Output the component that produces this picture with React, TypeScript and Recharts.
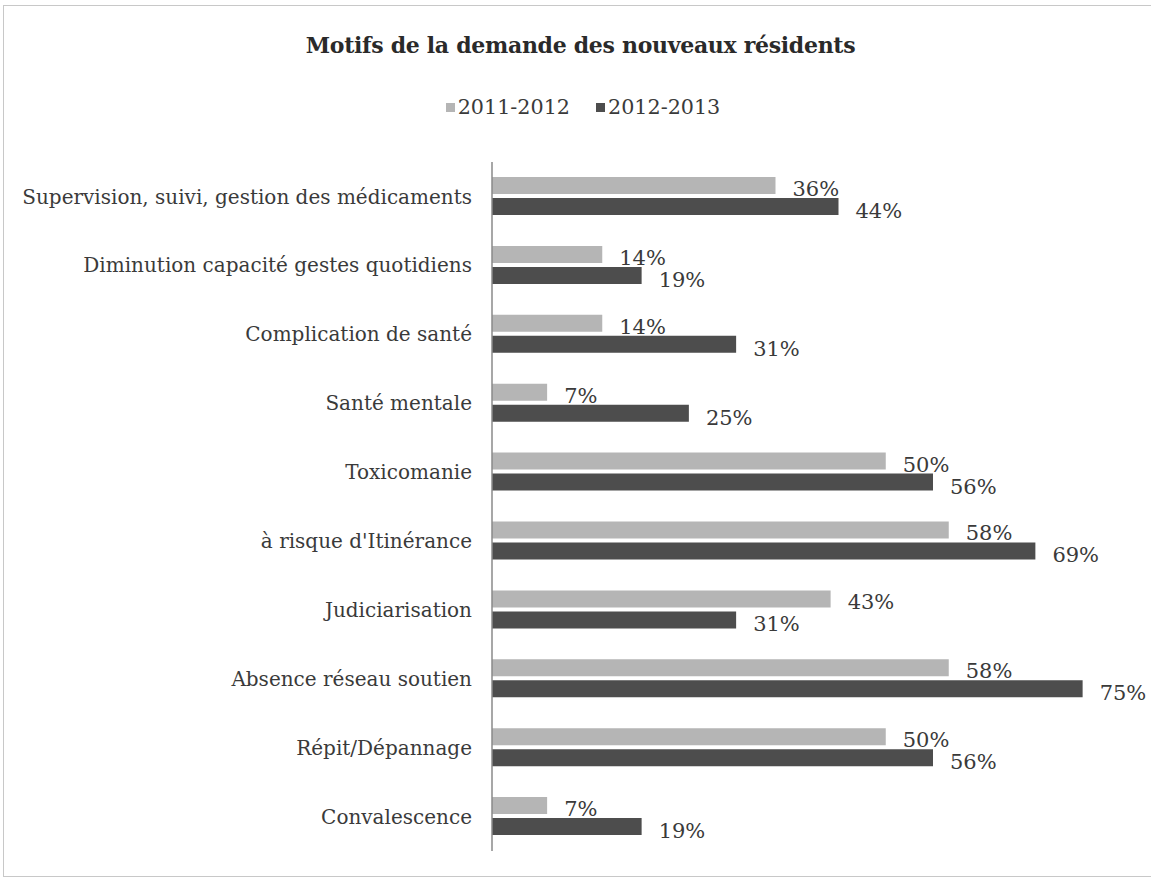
import { BarChart, Bar, XAxis, YAxis, LabelList } from "recharts";

const categories = [
  "Supervision, suivi, gestion des médicaments",
  "Diminution capacité gestes quotidiens",
  "Complication de santé",
  "Santé mentale",
  "Toxicomanie",
  "à risque d'Itinérance",
  "Judiciarisation",
  "Absence réseau soutien",
  "Répit/Dépannage",
  "Convalescence",
];
const y2011 = [36, 14, 14, 7, 50, 58, 43, 58, 50, 7];
const y2013 = [44, 19, 31, 25, 56, 69, 31, 75, 56, 19];
const seriesNames = ["2011-2012", "2012-2013"];

const data = categories.map((name, i) => ({ name, a: y2011[i], b: y2013[i] }));

const FONT = "'DejaVu Serif', serif";
const TEXT = "#3a3a3a";
const LIGHT = "#b5b5b5";
const DARK = "#4d4d4d";

const pct = (v: any) => `${v}%`;

export default function App() {
  return (
    <div style={{ position: "fixed", left: 0, top: 0, width: 1151, height: 880, background: "#fff", fontFamily: FONT }}>
      <div style={{ position: "absolute", left: 3, top: 5, width: 1160, height: 872, border: "1.5px solid #c8c8c8", boxSizing: "border-box" }} />
      <div style={{ position: "absolute", left: 0, width: 1161, top: 32, textAlign: "center", fontSize: 22, fontWeight: "bold", color: "#2a2a2a", letterSpacing: -0.3 }}>
        Motifs de la demande des nouveaux résidents
      </div>
      <div style={{ position: "absolute", left: 0, width: 1166, top: 95, display: "flex", justifyContent: "center", gap: 26, fontSize: 20.7, color: TEXT }}>
        {seriesNames.map((s, i) => (
          <span key={s} style={{ display: "flex", alignItems: "center" }}>
            <span style={{ display: "inline-block", width: 9, height: 9, background: i === 0 ? LIGHT : DARK, marginRight: 3 }} />
            {s}
          </span>
        ))}
      </div>
      <div style={{ position: "absolute", left: 0, top: 0 }}>
        <BarChart
          width={1151}
          height={880}
          data={data}
          layout="vertical"
          margin={{ top: 162, right: 29, bottom: 29, left: 4 }}
          barSize={17}
          barGap={4}
        >
          <XAxis type="number" domain={[0, 80]} hide />
          <YAxis
            type="category"
            dataKey="name"
            width={488}
            axisLine={{ stroke: "#8a8a8a", strokeWidth: 1.5 }}
            tickLine={false}
            tickMargin={14}
            tick={{ fontSize: 20, fill: TEXT, fontFamily: FONT }}
            interval={0}
          />
          <Bar dataKey="a" name={seriesNames[0]} fill={LIGHT} isAnimationActive={false}>
            <LabelList dataKey="a" position="right" offset={17} formatter={pct} style={{ fontSize: 21, fill: TEXT, fontFamily: FONT }} dy={3} />
          </Bar>
          <Bar dataKey="b" name={seriesNames[1]} fill={DARK} isAnimationActive={false}>
            <LabelList dataKey="b" position="right" offset={17} formatter={pct} style={{ fontSize: 21, fill: TEXT, fontFamily: FONT }} dy={4} />
          </Bar>
        </BarChart>
      </div>
    </div>
  );
}
